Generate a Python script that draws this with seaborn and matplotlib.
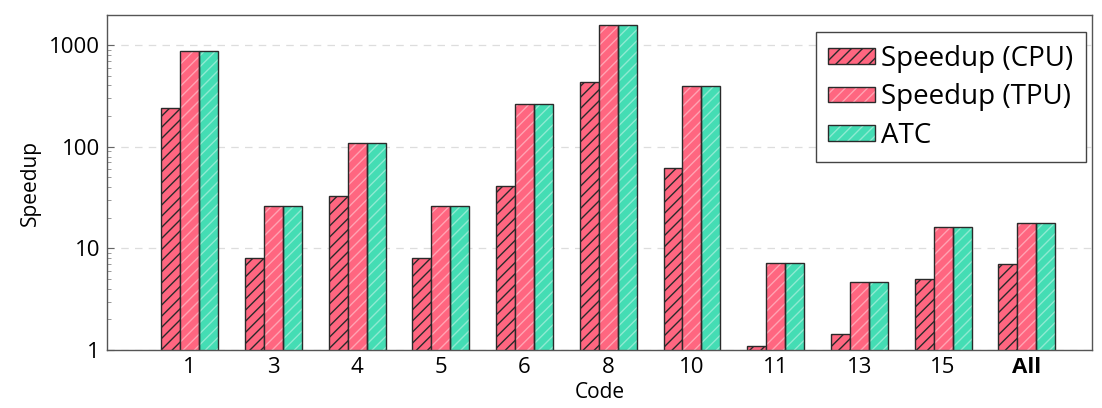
import matplotlib
matplotlib.use('Agg')
import matplotlib.pyplot as plt
import seaborn as sns
import pandas as pd
from matplotlib.patches import Rectangle
from matplotlib.legend_handler import HandlerTuple

# Values (log scale)
codes = ['1', '3', '4', '5', '6', '8', '10', '11', '13', '15', 'All']
speedup_cpu = [240, 8.0, 33, 8.0, 41, 432, 62, 1.1, 1.44, 5.0, 7.0]
speedup_tpu = [870, 26, 108, 26, 263, 1570, 394, 7.2, 4.7, 16.2, 17.7]
atc = [870, 26, 108, 26, 263, 1570, 394, 7.2, 4.7, 16.2, 17.7]
series_names = ['Speedup (CPU)', 'Speedup (TPU)', 'ATC']

pink = '#FF6680'
teal = '#44DDB4'
edge = '#2a2a2a'

data = pd.DataFrame({
    'Code': codes * 3,
    'Speedup': speedup_cpu + speedup_tpu + atc,
    'Series': [series_names[0]] * len(codes) + [series_names[1]] * len(codes) + [series_names[2]] * len(codes),
})

sns.set_style('white')
plt.rcParams['font.family'] = ['Open Sans', 'DejaVu Sans']
plt.rcParams['hatch.linewidth'] = 1.0
plt.rcParams['text.color'] = 'black'
plt.rcParams['axes.labelcolor'] = 'black'
plt.rcParams['xtick.labelcolor'] = 'black'
plt.rcParams['ytick.labelcolor'] = 'black'

fig = plt.figure(figsize=(11.02, 4.08), dpi=100)
ax = fig.add_axes([0.097, 0.142, 0.894, 0.821])

sns.barplot(data=data, x='Code', y='Speedup', hue='Series', order=codes,
            hue_order=series_names, palette=[pink, pink, teal], width=0.68,
            saturation=1, ax=ax, legend=False)
ax.set_yscale('log')

# CPU: black hatch, TPU / ATC: faint white hatch with a dark outline on top
cpu_bars, tpu_bars, atc_bars = ax.containers
for p in cpu_bars:
    p.set_hatch('///')
    p.set_edgecolor(edge)
    p.set_linewidth(1.0)

outlines = []
for bars in (tpu_bars, atc_bars):
    for p in bars:
        p.set_hatch('///')
        p.set_edgecolor((1, 1, 1, 0.4))
        p.set_linewidth(0)
        r = Rectangle(p.get_xy(), p.get_width(), p.get_height(), fill=False,
                      edgecolor=edge, linewidth=1.0, zorder=p.get_zorder() + 0.1)
        ax.add_patch(r)
        outlines.append(r)

ax.set_ylim(1, 1970)
ax.set_xlim(-0.99, 10.78)
ax.set_yticks([1, 10, 100, 1000])
ax.set_yticklabels(['1', '10', '100', '1000'])
ax.tick_params(axis='y', which='major', direction='in', length=5, width=0.8,
               color='#666666', labelsize=16, left=True, pad=5)
ax.tick_params(axis='y', which='minor', direction='in', length=3, width=0.6,
               color='#888888', left=True)
ax.tick_params(axis='x', length=0, labelsize=16, pad=5)
ax.xaxis.get_ticklabels()[-1].set_fontweight('bold')

ax.yaxis.grid(True, which='major', linestyle=(0, (6, 5)), color='#dddddd', linewidth=0.9)
ax.set_axisbelow(True)
for s in ax.spines.values():
    s.set_color('#555555')
    s.set_linewidth(1.0)

ax.set_xlabel('Code', fontsize=15, labelpad=3)
ax.set_ylabel('Speedup', fontsize=15, labelpad=6)

# legend from the drawn bars
tpu_handle = (tpu_bars[0], outlines[0])
atc_handle = (atc_bars[0], outlines[len(codes)])
ax.legend([cpu_bars[0], tpu_handle, atc_handle], series_names,
          handler_map={tuple: HandlerTuple(ndivide=1, pad=0)},
          loc='upper right', bbox_to_anchor=(0.999, 0.965), fontsize=20,
          frameon=True, fancybox=False, edgecolor='#444444', framealpha=1,
          handlelength=1.7, handleheight=0.5, handletextpad=0.2,
          labelspacing=0.38, borderpad=0.45, borderaxespad=0.2)

fig.savefig('out.png', dpi=100)
